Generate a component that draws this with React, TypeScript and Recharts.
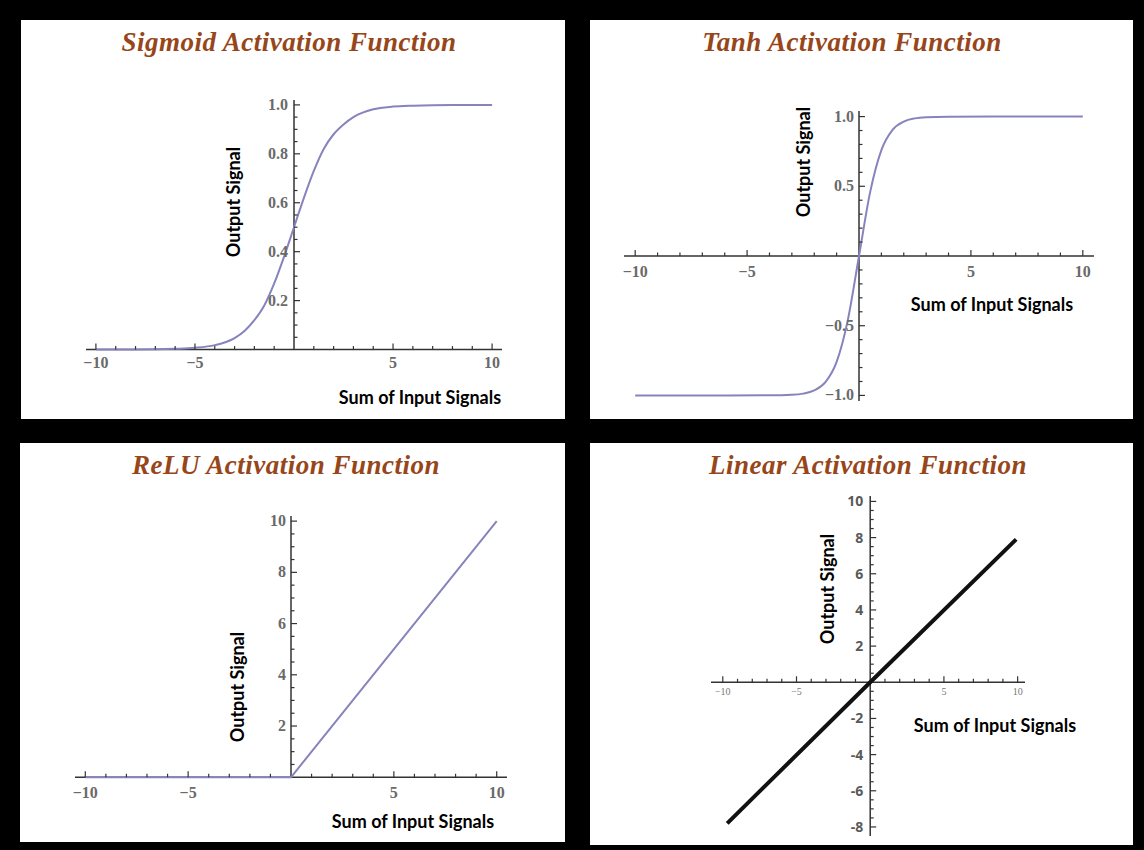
import React from 'react';
import { LineChart, Line, XAxis, YAxis, ReferenceLine, ReferenceDot } from 'recharts';

// values
const sigmoidX = [-10, -8, -6, -5, -4, -3, -2.5, -2, -1.5, -1, -0.5, 0, 0.5, 1, 1.5, 2, 2.5, 3, 4, 5, 6, 8, 10];
const sigmoidY = [0, 0, 0.003, 0.007, 0.018, 0.047, 0.076, 0.12, 0.18, 0.27, 0.38, 0.5, 0.62, 0.73, 0.82, 0.88, 0.92, 0.95, 0.982, 0.993, 0.997, 1, 1];

const tanhX = [-10, -6, -4, -3, -2.5, -2, -1.5, -1, -0.5, 0, 0.5, 1, 1.5, 2, 2.5, 3, 4, 6, 10];
const tanhY = [-1, -1, -0.999, -0.995, -0.987, -0.964, -0.905, -0.76, -0.46, 0, 0.46, 0.76, 0.905, 0.964, 0.987, 0.995, 0.999, 1, 1];

const reluX = [-10, 0, 10];
const reluY = [0, 0, 10];

const linearX = [-9.7, 0, 9.9];
const linearY = [-7.8, 0, 7.9];

// tick marks and labels
const xMajor = [-10, -5, 5, 10];
const xLabels = ['−10', '−5', '5', '10'];

const sigmoidYMajor = [0.2, 0.4, 0.6, 0.8, 1.0];
const sigmoidYLabels = ['0.2', '0.4', '0.6', '0.8', '1.0'];

const tanhYMajor = [-1, -0.5, 0.5, 1];
const tanhYLabels = ['−1.0', '−0.5', '0.5', '1.0'];

const reluYMajor = [2, 4, 6, 8, 10];
const reluYLabels = ['2', '4', '6', '8', '10'];

const linearYMajor = [-8, -6, -4, -2, 2, 4, 6, 8, 10];
const linearYLabels = ['-8', '-6', '-4', '-2', '2', '4', '6', '8', '10'];

const minors = (from: number, to: number, step: number, skip: number[]) => {
  const out: number[] = [];
  for (let i = Math.round(from / step); i <= Math.round(to / step); i++) {
    const v = +(i * step).toFixed(4);
    if (v !== 0 && !skip.some((s) => Math.abs(s - v) < 1e-6)) out.push(v);
  }
  return out;
};

const zip = (xs: number[], ys: number[]) => xs.map((x, i) => ({ x, y: ys[i] }));

const SERIF = '"Liberation Serif", "DejaVu Serif", serif';
const SANS = 'Lato, "Open Sans", sans-serif';
const AXIS = '#333';
const CURVE = '#8783bd';

type TextStyle = { fontFamily: string; fontSize: number; fill: string; fontWeight?: number };

type Panel = {
  left: number; top: number; width: number; height: number;
  title: string; titleX: number; titleY: number;
  margin: { top: number; right: number; bottom: number; left: number };
  xDomain: [number, number]; yDomain: [number, number];
  data: { x: number; y: number }[];
  curve: 'monotone' | 'linear'; stroke: string; strokeWidth: number;
  xMajor: number[]; xLabels: string[]; xMinor: number[];
  yMajor: number[]; yLabels: string[]; yMinor: number[];
  yAxisFrom: number; yAxisTo: number;
  xStyle: TextStyle; yStyle: TextStyle; xDy: number; yDx: number; yDy: number;
  outX: number; outY: number; sumX: number; sumY: number;
};

const serifTicks: TextStyle = { fontFamily: SERIF, fontSize: 16, fill: '#6a6a6a', fontWeight: 700 };

const panels: Panel[] = [
  {
    left: 21, top: 20, width: 544, height: 399,
    title: 'Sigmoid Activation Function', titleX: 268, titleY: 22,
    margin: { top: 80, right: 63, bottom: 45, left: 65 },
    xDomain: [-10.5, 10.5], yDomain: [-0.1, 1.02],
    data: zip(sigmoidX, sigmoidY), curve: 'monotone', stroke: CURVE, strokeWidth: 2,
    xMajor, xLabels, xMinor: minors(-9, 9, 1, xMajor),
    yMajor: sigmoidYMajor, yLabels: sigmoidYLabels, yMinor: minors(0.05, 0.95, 0.05, sigmoidYMajor),
    yAxisFrom: 0, yAxisTo: 1.02,
    xStyle: serifTicks, yStyle: serifTicks, xDy: 18, yDx: 6, yDy: 5,
    outX: 212, outY: 182, sumX: 399, sumY: 377,
  },
  {
    left: 590, top: 20, width: 543, height: 399,
    title: 'Tanh Activation Function', titleX: 262, titleY: 22,
    margin: { top: 91, right: 39, bottom: 18, left: 34 },
    xDomain: [-10.5, 10.5], yDomain: [-1.04, 1.04],
    data: zip(tanhX, tanhY), curve: 'monotone', stroke: CURVE, strokeWidth: 2,
    xMajor, xLabels, xMinor: minors(-9, 9, 1, xMajor),
    yMajor: tanhYMajor, yLabels: tanhYLabels, yMinor: minors(-0.9, 0.9, 0.1, tanhYMajor),
    yAxisFrom: -1.04, yAxisTo: 1.04,
    xStyle: serifTicks, yStyle: serifTicks, xDy: 21, yDx: 5, yDy: 5,
    outX: 213, outY: 142, sumX: 402, sumY: 284,
  },
  {
    left: 20, top: 443, width: 545, height: 399,
    title: 'ReLU Activation Function', titleX: 266, titleY: 22,
    margin: { top: 73, right: 58, bottom: 34, left: 55 },
    xDomain: [-10.5, 10.5], yDomain: [-1.2, 10.2],
    data: zip(reluX, reluY), curve: 'linear', stroke: CURVE, strokeWidth: 2,
    xMajor, xLabels, xMinor: minors(-9, 9, 1, xMajor),
    yMajor: reluYMajor, yLabels: reluYLabels, yMinor: minors(0.5, 9.5, 0.5, reluYMajor),
    yAxisFrom: 0, yAxisTo: 10.2,
    xStyle: serifTicks, yStyle: serifTicks, xDy: 21, yDx: 5, yDy: 5,
    outX: 217, outY: 244, sumX: 393, sumY: 378,
  },
  {
    left: 590, top: 443, width: 543, height: 402,
    title: 'Linear Activation Function', titleX: 278, titleY: 22,
    margin: { top: 53, right: 108, bottom: 9, left: 121 },
    xDomain: [-10.8, 10.5], yDomain: [-8.5, 10.3],
    data: zip(linearX, linearY), curve: 'linear', stroke: '#111', strokeWidth: 4,
    xMajor, xLabels, xMinor: minors(-9, 9, 1, xMajor),
    yMajor: linearYMajor, yLabels: linearYLabels, yMinor: minors(-8, 9.5, 0.5, linearYMajor),
    yAxisFrom: -8.5, yAxisTo: 10.3,
    xStyle: { fontFamily: SERIF, fontSize: 10, fill: '#777' },
    yStyle: { fontFamily: '"Open Sans", sans-serif', fontSize: 14, fill: '#5a5a5a', fontWeight: 700 },
    xDy: 13, yDx: 7, yDy: 5,
    outX: 237, outY: 146, sumX: 405, sumY: 282,
  },
];

const xTick = (len: number, label?: string, style?: TextStyle, dy = 0) => (p: any) => (
  <g>
    <line x1={p.cx} y1={p.cy} x2={p.cx} y2={p.cy - len} stroke={AXIS} strokeWidth={1.2} />
    {label && (
      <text x={p.cx} y={p.cy + dy} textAnchor="middle" {...style}>{label}</text>
    )}
  </g>
);

const yTick = (len: number, label?: string, style?: TextStyle, dx = 0, dy = 0) => (p: any) => (
  <g>
    <line x1={p.cx} y1={p.cy} x2={p.cx + len} y2={p.cy} stroke={AXIS} strokeWidth={1.2} />
    {label && (
      <text x={p.cx - dx} y={p.cy + dy} textAnchor="end" {...style}>{label}</text>
    )}
  </g>
);

function ActivationPanel({ cfg }: { cfg: Panel }) {
  return (
    <div style={{ position: 'absolute', left: cfg.left, top: cfg.top, width: cfg.width, height: cfg.height, background: '#fff' }}>
      <LineChart width={cfg.width} height={cfg.height} data={cfg.data} margin={cfg.margin}>
        <XAxis type="number" dataKey="x" domain={cfg.xDomain} allowDataOverflow hide />
        <YAxis type="number" domain={cfg.yDomain} allowDataOverflow hide />
        <ReferenceLine y={0} stroke={AXIS} strokeWidth={1.5} ifOverflow="visible" />
        <ReferenceLine
          segment={[{ x: 0, y: cfg.yAxisFrom }, { x: 0, y: cfg.yAxisTo }]}
          stroke={AXIS}
          strokeWidth={1.5}
          ifOverflow="visible"
        />
        {cfg.xMinor.map((v) => (
          <ReferenceDot key={'xm' + v} x={v} y={0} r={0} ifOverflow="visible" shape={xTick(3.5)} />
        ))}
        {cfg.xMajor.map((v, i) => (
          <ReferenceDot key={'xM' + v} x={v} y={0} r={0} ifOverflow="visible"
            shape={xTick(6, cfg.xLabels[i], cfg.xStyle, cfg.xDy)} />
        ))}
        {cfg.yMinor.map((v) => (
          <ReferenceDot key={'ym' + v} x={0} y={v} r={0} ifOverflow="visible" shape={yTick(3.5)} />
        ))}
        {cfg.yMajor.map((v, i) => (
          <ReferenceDot key={'yM' + v} x={0} y={v} r={0} ifOverflow="visible"
            shape={yTick(6, cfg.yLabels[i], cfg.yStyle, cfg.yDx, cfg.yDy)} />
        ))}
        <Line
          type={cfg.curve}
          dataKey="y"
          stroke={cfg.stroke}
          strokeWidth={cfg.strokeWidth}
          dot={false}
          activeDot={false}
          isAnimationActive={false}
        />
      </LineChart>
      <div style={{
        position: 'absolute', left: cfg.titleX, top: cfg.titleY, transform: 'translate(-50%, -50%)',
        fontFamily: SERIF, fontStyle: 'italic', fontWeight: 700, fontSize: 27, letterSpacing: 0.5,
        color: '#97461a', whiteSpace: 'nowrap',
      }}>
        {cfg.title}
      </div>
      <div style={{
        position: 'absolute', left: cfg.outX, top: cfg.outY, transform: 'translate(-50%, -50%) rotate(-90deg)',
        fontFamily: SANS, fontWeight: 700, fontSize: 18, color: '#000', whiteSpace: 'nowrap',
      }}>
        Output Signal
      </div>
      <div style={{
        position: 'absolute', left: cfg.sumX, top: cfg.sumY, transform: 'translate(-50%, -50%)',
        fontFamily: SANS, fontWeight: 700, fontSize: 18, color: '#000', whiteSpace: 'nowrap',
      }}>
        Sum of Input Signals
      </div>
    </div>
  );
}

export default function App() {
  return (
    <div style={{ position: 'absolute', left: 0, top: 0, width: 1144, height: 850, background: '#000', overflow: 'hidden' }}>
      {panels.map((p) => (
        <ActivationPanel key={p.title} cfg={p} />
      ))}
    </div>
  );
}
